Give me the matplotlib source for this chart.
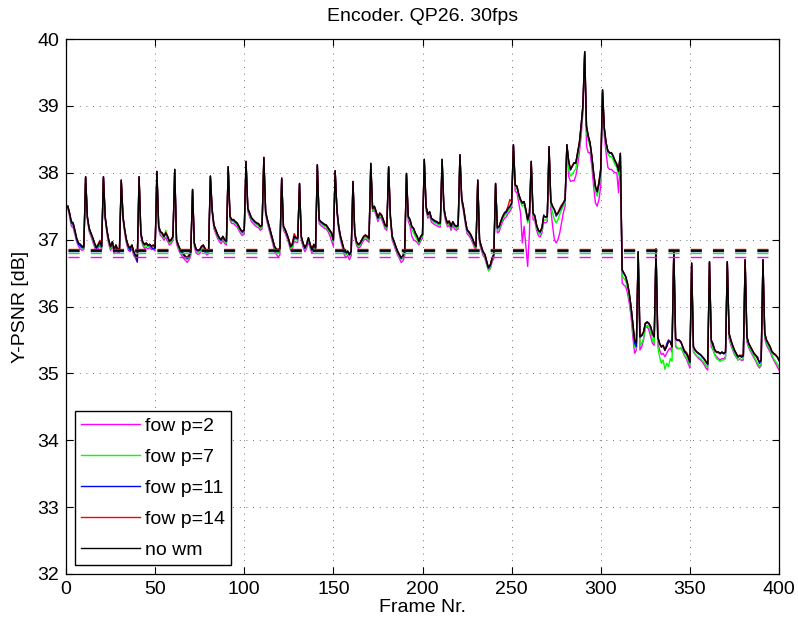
import numpy as np
import matplotlib
matplotlib.use("Agg")
import matplotlib.pyplot as plt

plt.rcParams['font.family'] = ['Liberation Sans', 'DejaVu Sans']

frames = list(range(1, 401))

no_wm = [
37.50, 37.40, 37.27, 37.25, 37.14, 37.02, 36.95, 36.93, 36.90, 36.90,
37.94, 37.34, 37.17, 37.10, 37.03, 36.95, 36.88, 36.92, 36.97, 36.90,
37.94, 37.34, 37.14, 36.99, 36.90, 36.97, 36.85, 36.92, 36.85, 36.86,
37.89, 37.34, 37.14, 36.99, 36.90, 36.88, 36.92, 36.82, 36.77, 36.71,
37.94, 37.10, 36.97, 36.93, 36.95, 36.92, 36.93, 36.90, 36.92, 36.88,
38.02, 37.20, 37.12, 37.10, 37.05, 37.10, 37.05, 36.98, 37.00, 37.05,
38.05, 37.00, 36.92, 36.86, 36.82, 36.78, 36.75, 36.73, 36.76, 36.82,
37.75, 36.95, 36.86, 36.84, 36.85, 36.90, 36.92, 36.87, 36.83, 36.85,
37.95, 37.45, 37.22, 37.15, 37.08, 37.03, 37.00, 37.05, 37.00, 36.98,
38.09, 37.35, 37.30, 37.30, 37.27, 37.25, 37.20, 37.15, 37.12, 37.15,
38.17, 37.47, 37.40, 37.33, 37.30, 37.27, 37.25, 37.24, 37.20, 37.22,
38.23, 37.42, 37.30, 37.20, 37.10, 37.00, 36.90, 36.86, 36.85, 36.87,
37.92, 37.20, 37.15, 37.08, 37.00, 36.90, 36.93, 37.05, 37.03, 37.02,
37.84, 37.05, 36.95, 36.88, 36.93, 37.03, 36.93, 36.85, 36.93, 36.88,
38.12, 37.30, 37.27, 37.25, 37.23, 37.22, 37.18, 37.14, 37.10, 37.00,
38.03, 37.45, 37.20, 37.05, 36.95, 36.85, 36.80, 36.83, 36.78, 36.83,
37.87, 37.10, 36.97, 36.93, 36.95, 37.00, 37.05, 37.07, 37.05, 37.02,
38.14, 37.47, 37.50, 37.42, 37.33, 37.40, 37.37, 37.30, 37.22, 37.20,
38.09, 37.35, 37.05, 36.98, 36.90, 36.83, 36.78, 36.73, 36.76, 36.82,
37.99, 37.35, 37.30, 37.20, 37.17, 37.10, 37.05, 36.98, 37.05, 37.08,
38.20, 37.50, 37.38, 37.42, 37.32, 37.30, 37.28, 37.27, 37.25, 37.25,
38.20, 37.48, 37.33, 37.25, 37.28, 37.20, 37.27, 37.22, 37.20, 37.22,
38.27, 37.62, 37.48, 37.30, 37.15, 37.12, 37.08, 37.02, 36.95, 36.90,
37.89, 37.00, 36.90, 36.82, 36.78, 36.68, 36.58, 36.62, 36.72, 36.78,
37.84, 37.18, 37.20, 37.28, 37.35, 37.40, 37.42, 37.47, 37.50, 37.55,
38.42, 37.82, 37.80, 37.68, 37.60, 37.55, 37.57, 37.45, 37.30, 37.40,
38.17, 37.40, 37.36, 37.22, 37.14, 37.12, 37.18, 37.35, 37.34, 37.35,
38.39, 37.57, 37.50, 37.45, 37.38, 37.40, 37.45, 37.50, 37.55, 37.60,
38.42, 38.18, 38.05, 38.10, 38.15, 38.15, 38.30, 38.45, 38.70, 39.00,
39.81, 38.70, 38.55, 38.45, 38.25, 38.00, 37.80, 37.72, 37.85, 38.05,
39.24, 38.67, 38.45, 38.33, 38.30, 38.30, 38.25, 38.18, 38.13, 38.03,
38.29, 36.55, 36.50, 36.45, 36.35, 36.20, 36.00, 35.75, 35.50, 35.45,
36.82, 35.55, 35.57, 35.62, 35.75, 35.77, 35.75, 35.70, 35.60, 35.55,
36.86, 35.55, 35.45, 35.40, 35.42, 35.35, 35.40, 35.48, 35.47, 35.40,
36.85, 35.52, 35.50, 35.50, 35.47, 35.40, 35.33, 35.30, 35.25, 35.17,
36.65, 35.40, 35.35, 35.32, 35.30, 35.28, 35.25, 35.22, 35.18, 35.14,
36.67, 35.50, 35.42, 35.35, 35.32, 35.32, 35.30, 35.32, 35.30, 35.32,
36.67, 35.60, 35.50, 35.42, 35.35, 35.30, 35.25, 35.27, 35.25, 35.27,
36.70, 35.55, 35.45, 35.40, 35.35, 35.30, 35.27, 35.22, 35.17, 35.20,
36.70, 35.60, 35.50, 35.45, 35.40, 35.33, 35.30, 35.28, 35.25, 35.20,
]

fow_p2 = [
37.48, 37.35, 37.20, 37.18, 37.08, 36.97, 36.90, 36.86, 36.84, 36.85,
37.92, 37.30, 37.12, 37.05, 36.97, 36.89, 36.82, 36.86, 36.92, 36.85,
37.92, 37.30, 37.08, 36.93, 36.84, 36.90, 36.79, 36.86, 36.80, 36.80,
37.87, 37.30, 37.08, 36.93, 36.84, 36.82, 36.86, 36.76, 36.72, 36.66,
37.92, 37.05, 36.92, 36.87, 36.88, 36.86, 36.88, 36.85, 36.86, 36.83,
38.00, 37.15, 37.06, 37.04, 36.99, 37.03, 36.98, 36.92, 36.94, 36.99,
38.03, 36.94, 36.86, 36.80, 36.76, 36.72, 36.69, 36.66, 36.70, 36.76,
37.73, 36.89, 36.80, 36.78, 36.79, 36.84, 36.86, 36.81, 36.77, 36.79,
37.93, 37.40, 37.16, 37.09, 37.02, 36.97, 36.94, 36.99, 36.94, 36.92,
38.07, 37.29, 37.24, 37.24, 37.21, 37.19, 37.14, 37.09, 37.06, 37.09,
38.15, 37.42, 37.34, 37.27, 37.24, 37.21, 37.19, 37.18, 37.14, 37.16,
38.21, 37.37, 37.24, 37.14, 37.04, 36.94, 36.82, 36.78, 36.74, 36.77,
37.90, 37.14, 37.09, 37.02, 36.94, 36.84, 36.86, 36.98, 36.96, 36.96,
37.82, 36.99, 36.89, 36.82, 36.87, 36.97, 36.87, 36.79, 36.87, 36.82,
38.10, 37.24, 37.21, 37.19, 37.17, 37.16, 37.12, 37.06, 36.98, 36.90,
38.01, 37.40, 37.14, 36.99, 36.89, 36.78, 36.73, 36.76, 36.70, 36.76,
37.85, 37.04, 36.91, 36.87, 36.89, 36.94, 36.99, 37.01, 36.99, 36.96,
38.12, 37.42, 37.44, 37.36, 37.27, 37.34, 37.31, 37.24, 37.16, 37.14,
38.07, 37.30, 36.99, 36.92, 36.84, 36.77, 36.72, 36.66, 36.68, 36.76,
37.97, 37.28, 37.20, 37.05, 37.00, 36.98, 36.96, 36.92, 36.98, 37.02,
38.18, 37.44, 37.32, 37.36, 37.26, 37.24, 37.22, 37.21, 37.19, 37.19,
38.18, 37.42, 37.27, 37.19, 37.22, 37.14, 37.21, 37.16, 37.14, 37.16,
38.25, 37.56, 37.42, 37.24, 37.09, 37.06, 37.02, 36.96, 36.89, 36.84,
37.87, 36.94, 36.84, 36.76, 36.72, 36.62, 36.55, 36.56, 36.66, 36.72,
37.82, 37.10, 37.12, 37.20, 37.27, 37.32, 37.34, 37.39, 37.42, 37.47,
38.40, 37.72, 37.70, 37.55, 37.40, 36.95, 37.20, 36.90, 36.60, 37.10,
38.15, 37.30, 37.28, 37.14, 37.06, 37.04, 37.10, 37.26, 37.25, 37.27,
38.37, 37.45, 37.20, 37.00, 36.95, 37.00, 37.10, 37.25, 37.40, 37.50,
38.40, 37.95, 37.87, 37.88, 37.88, 37.95, 38.10, 38.30, 38.55, 38.90,
39.78, 38.40, 38.30, 38.30, 38.10, 37.80, 37.55, 37.50, 37.60, 37.80,
39.20, 38.55, 38.30, 38.08, 38.05, 38.05, 38.02, 38.00, 38.00, 37.70,
38.25, 36.35, 36.32, 36.30, 36.20, 36.05, 35.85, 35.55, 35.30, 35.35,
36.80, 35.35, 35.40, 35.50, 35.68, 35.70, 35.65, 35.55, 35.45, 35.42,
36.84, 35.45, 35.35, 35.28, 35.30, 35.25, 35.30, 35.35, 35.38, 35.32,
36.83, 35.40, 35.37, 35.37, 35.38, 35.33, 35.26, 35.22, 35.15, 35.08,
36.63, 35.32, 35.28, 35.25, 35.22, 35.20, 35.17, 35.13, 35.08, 35.05,
36.65, 35.40, 35.35, 35.28, 35.25, 35.22, 35.20, 35.22, 35.22, 35.25,
36.65, 35.52, 35.42, 35.35, 35.28, 35.24, 35.20, 35.22, 35.19, 35.20,
36.68, 35.47, 35.38, 35.33, 35.28, 35.23, 35.18, 35.12, 35.08, 35.12,
36.68, 35.52, 35.42, 35.37, 35.32, 35.25, 35.20, 35.15, 35.10, 35.05,
]

fow_p7 = [
37.49, 37.37, 37.23, 37.21, 37.10, 36.99, 36.92, 36.89, 36.87, 36.87,
37.93, 37.32, 37.14, 37.07, 37.00, 36.92, 36.85, 36.89, 36.94, 36.87,
37.93, 37.32, 37.11, 36.96, 36.87, 36.93, 36.82, 36.89, 36.82, 36.83,
37.88, 37.32, 37.11, 36.96, 36.87, 36.85, 36.89, 36.79, 36.74, 36.68,
37.93, 37.07, 36.94, 36.90, 36.91, 36.89, 36.90, 36.87, 36.89, 36.85,
38.01, 37.17, 37.09, 37.07, 37.02, 37.14, 37.02, 36.95, 36.97, 37.02,
38.04, 36.97, 36.89, 36.83, 36.79, 36.75, 36.72, 36.70, 36.73, 36.79,
37.74, 36.92, 36.83, 36.81, 36.82, 36.87, 36.89, 36.84, 36.80, 36.82,
37.94, 37.42, 37.19, 37.12, 37.05, 37.00, 36.97, 37.02, 36.97, 36.95,
38.08, 37.32, 37.27, 37.27, 37.24, 37.22, 37.17, 37.12, 37.09, 37.12,
38.16, 37.44, 37.37, 37.30, 37.27, 37.24, 37.22, 37.21, 37.17, 37.19,
38.22, 37.39, 37.27, 37.17, 37.07, 36.97, 36.86, 36.82, 36.80, 36.82,
37.91, 37.17, 37.12, 37.05, 36.97, 36.87, 36.89, 37.01, 37.00, 36.99,
37.83, 37.02, 36.92, 36.85, 36.90, 37.00, 36.90, 36.82, 36.90, 36.85,
38.11, 37.27, 37.24, 37.22, 37.20, 37.19, 37.15, 37.10, 37.05, 36.96,
38.02, 37.42, 37.17, 37.02, 36.92, 36.82, 36.77, 36.80, 36.75, 36.80,
37.86, 37.07, 36.94, 36.90, 36.92, 36.97, 37.02, 37.04, 37.02, 36.99,
38.13, 37.44, 37.47, 37.39, 37.30, 37.37, 37.34, 37.27, 37.19, 37.17,
38.08, 37.32, 37.02, 36.95, 36.87, 36.80, 36.75, 36.70, 36.72, 36.79,
37.98, 37.32, 37.26, 37.15, 37.10, 37.04, 37.00, 36.94, 37.01, 37.05,
38.19, 37.47, 37.35, 37.39, 37.29, 37.27, 37.25, 37.24, 37.22, 37.22,
38.19, 37.45, 37.30, 37.22, 37.25, 37.17, 37.24, 37.19, 37.17, 37.19,
38.26, 37.59, 37.45, 37.27, 37.12, 37.09, 37.05, 36.99, 36.92, 36.87,
37.88, 36.97, 36.87, 36.79, 36.74, 36.64, 36.53, 36.58, 36.69, 36.75,
37.83, 37.14, 37.16, 37.24, 37.31, 37.36, 37.38, 37.43, 37.46, 37.51,
38.41, 37.78, 37.76, 37.64, 37.56, 37.50, 37.52, 37.40, 37.25, 37.35,
38.16, 37.36, 37.32, 37.18, 37.10, 37.08, 37.14, 37.30, 37.29, 37.31,
38.38, 37.52, 37.40, 37.30, 37.25, 37.30, 37.38, 37.45, 37.50, 37.56,
38.41, 38.05, 37.95, 37.98, 38.02, 38.06, 38.22, 38.38, 38.63, 38.95,
39.80, 38.62, 38.48, 38.40, 38.20, 37.95, 37.72, 37.65, 37.78, 37.98,
39.22, 38.62, 38.40, 38.28, 38.24, 38.24, 38.19, 38.12, 38.08, 37.97,
38.27, 36.45, 36.42, 36.38, 36.28, 36.12, 35.92, 35.65, 35.40, 35.38,
36.81, 35.42, 35.45, 35.52, 35.68, 35.72, 35.70, 35.62, 35.50, 35.45,
36.85, 35.40, 35.25, 35.15, 35.20, 35.06, 35.15, 35.10, 35.22, 35.18,
36.84, 35.42, 35.38, 35.37, 35.38, 35.33, 35.27, 35.24, 35.19, 35.12,
36.64, 35.33, 35.29, 35.26, 35.24, 35.22, 35.19, 35.16, 35.12, 35.09,
36.66, 35.45, 35.36, 35.27, 35.22, 35.20, 35.18, 35.20, 35.20, 35.22,
36.66, 35.55, 35.45, 35.37, 35.30, 35.25, 35.20, 35.22, 35.20, 35.22,
36.69, 35.50, 35.40, 35.35, 35.30, 35.25, 35.20, 35.15, 35.10, 35.14,
36.69, 35.55, 35.45, 35.40, 35.35, 35.28, 35.22, 35.18, 35.14, 35.10,
]

fow_p11 = [
37.50, 37.39, 37.25, 37.23, 37.12, 37.00, 36.93, 36.91, 36.88, 36.88,
37.94, 37.33, 37.16, 37.09, 37.02, 36.94, 36.87, 36.91, 36.96, 36.89,
37.94, 37.33, 37.13, 36.98, 36.89, 36.96, 36.84, 36.91, 36.84, 36.85,
37.89, 37.33, 37.13, 36.98, 36.89, 36.84, 36.91, 36.81, 36.75, 36.67,
37.94, 37.09, 36.96, 36.92, 36.94, 36.91, 36.92, 36.88, 36.86, 36.87,
38.02, 37.19, 37.11, 37.09, 37.04, 37.09, 37.04, 36.97, 36.99, 37.04,
38.05, 36.99, 36.91, 36.85, 36.81, 36.77, 36.74, 36.72, 36.75, 36.81,
37.75, 36.94, 36.85, 36.83, 36.84, 36.89, 36.91, 36.86, 36.82, 36.84,
37.95, 37.44, 37.21, 37.14, 37.07, 37.02, 36.99, 37.04, 36.99, 36.97,
38.09, 37.34, 37.29, 37.29, 37.26, 37.24, 37.19, 37.14, 37.11, 37.14,
38.17, 37.46, 37.39, 37.32, 37.29, 37.26, 37.24, 37.23, 37.19, 37.21,
38.23, 37.41, 37.29, 37.19, 37.09, 36.99, 36.89, 36.85, 36.84, 36.86,
37.92, 37.19, 37.14, 37.07, 36.99, 36.89, 36.92, 37.04, 37.02, 37.01,
37.84, 37.04, 36.94, 36.87, 36.92, 37.02, 36.92, 36.84, 36.92, 36.87,
38.12, 37.29, 37.26, 37.24, 37.22, 37.21, 37.17, 37.13, 37.09, 36.99,
38.03, 37.44, 37.19, 37.04, 36.94, 36.84, 36.79, 36.82, 36.77, 36.82,
37.87, 37.09, 36.96, 36.92, 36.94, 36.99, 37.04, 37.06, 37.04, 37.01,
38.14, 37.46, 37.49, 37.41, 37.32, 37.39, 37.36, 37.29, 37.21, 37.19,
38.09, 37.34, 37.04, 36.97, 36.89, 36.82, 36.77, 36.72, 36.75, 36.81,
37.99, 37.34, 37.29, 37.19, 37.16, 37.09, 37.04, 36.97, 37.04, 37.07,
38.20, 37.49, 37.37, 37.41, 37.31, 37.29, 37.27, 37.26, 37.24, 37.24,
38.20, 37.47, 37.32, 37.24, 37.27, 37.19, 37.26, 37.21, 37.19, 37.21,
38.27, 37.61, 37.47, 37.29, 37.14, 37.11, 37.07, 37.01, 36.94, 36.89,
37.89, 36.99, 36.89, 36.81, 36.77, 36.67, 36.57, 36.61, 36.71, 36.77,
37.84, 37.17, 37.19, 37.27, 37.34, 37.39, 37.41, 37.46, 37.49, 37.54,
38.42, 37.81, 37.79, 37.67, 37.59, 37.54, 37.56, 37.44, 37.29, 37.39,
38.17, 37.39, 37.35, 37.21, 37.13, 37.11, 37.17, 37.37, 37.33, 37.34,
38.39, 37.56, 37.49, 37.44, 37.35, 37.39, 37.44, 37.49, 37.54, 37.59,
38.42, 38.17, 38.04, 38.09, 38.14, 38.14, 38.29, 38.44, 38.72, 39.02,
39.81, 38.69, 38.54, 38.44, 38.24, 37.99, 37.79, 37.71, 37.84, 38.04,
39.24, 38.66, 38.44, 38.32, 38.29, 38.29, 38.24, 38.17, 38.12, 38.02,
38.29, 36.54, 36.49, 36.44, 36.34, 36.19, 35.99, 35.74, 35.45, 35.40,
36.82, 35.54, 35.56, 35.61, 35.74, 35.76, 35.74, 35.69, 35.59, 35.54,
36.86, 35.54, 35.44, 35.39, 35.41, 35.34, 35.44, 35.50, 35.48, 35.39,
36.85, 35.51, 35.49, 35.49, 35.46, 35.39, 35.32, 35.29, 35.24, 35.16,
36.65, 35.39, 35.34, 35.31, 35.29, 35.27, 35.24, 35.21, 35.17, 35.13,
36.67, 35.49, 35.45, 35.34, 35.31, 35.31, 35.29, 35.31, 35.29, 35.31,
36.67, 35.59, 35.49, 35.41, 35.34, 35.29, 35.24, 35.26, 35.24, 35.26,
36.70, 35.54, 35.44, 35.39, 35.34, 35.29, 35.26, 35.25, 35.15, 35.19,
36.70, 35.59, 35.49, 35.44, 35.39, 35.32, 35.29, 35.27, 35.24, 35.19,
]

fow_p14 = [
37.50, 37.40, 37.27, 37.25, 37.14, 37.02, 36.95, 36.93, 36.90, 36.90,
37.94, 37.34, 37.17, 37.10, 37.03, 36.95, 36.89, 36.93, 36.99, 36.92,
37.94, 37.34, 37.14, 36.99, 36.90, 36.97, 36.86, 36.92, 36.86, 36.87,
37.89, 37.34, 37.14, 36.99, 36.91, 36.88, 36.92, 36.83, 36.78, 36.72,
37.94, 37.10, 36.97, 36.93, 36.95, 36.92, 36.93, 36.90, 36.92, 36.89,
38.02, 37.20, 37.12, 37.10, 37.05, 37.11, 37.05, 36.98, 37.00, 37.05,
38.05, 37.00, 36.92, 36.86, 36.82, 36.78, 36.75, 36.74, 36.77, 36.82,
37.75, 36.95, 36.86, 36.84, 36.85, 36.90, 36.92, 36.87, 36.83, 36.85,
37.95, 37.45, 37.22, 37.15, 37.08, 37.03, 37.00, 37.05, 37.00, 36.98,
38.09, 37.35, 37.30, 37.30, 37.27, 37.25, 37.20, 37.15, 37.12, 37.15,
38.17, 37.47, 37.40, 37.33, 37.30, 37.27, 37.25, 37.24, 37.20, 37.22,
38.23, 37.42, 37.30, 37.20, 37.10, 37.00, 36.90, 36.86, 36.85, 36.87,
37.92, 37.20, 37.15, 37.08, 37.00, 36.91, 36.95, 37.09, 37.04, 37.02,
37.84, 37.05, 36.95, 36.88, 36.93, 37.03, 36.93, 36.85, 36.93, 36.88,
38.12, 37.30, 37.27, 37.25, 37.23, 37.22, 37.18, 37.14, 37.10, 37.00,
38.03, 37.45, 37.20, 37.05, 36.95, 36.85, 36.80, 36.83, 36.78, 36.83,
37.87, 37.10, 36.97, 36.93, 36.95, 37.00, 37.05, 37.07, 37.05, 37.02,
38.14, 37.47, 37.50, 37.42, 37.33, 37.40, 37.37, 37.30, 37.22, 37.20,
38.09, 37.35, 37.05, 36.98, 36.90, 36.83, 36.78, 36.73, 36.76, 36.82,
37.99, 37.35, 37.30, 37.20, 37.17, 37.10, 37.05, 36.98, 37.05, 37.08,
38.20, 37.50, 37.38, 37.42, 37.32, 37.30, 37.28, 37.27, 37.25, 37.25,
38.20, 37.48, 37.33, 37.25, 37.28, 37.20, 37.27, 37.22, 37.20, 37.22,
38.27, 37.62, 37.48, 37.30, 37.15, 37.12, 37.08, 37.02, 36.95, 36.90,
37.89, 37.00, 36.90, 36.82, 36.78, 36.68, 36.58, 36.62, 36.72, 36.78,
37.84, 37.18, 37.20, 37.28, 37.35, 37.40, 37.43, 37.50, 37.60, 37.56,
38.42, 37.82, 37.80, 37.68, 37.60, 37.55, 37.57, 37.45, 37.30, 37.40,
38.17, 37.40, 37.36, 37.22, 37.14, 37.12, 37.18, 37.35, 37.34, 37.35,
38.39, 37.57, 37.50, 37.45, 37.38, 37.40, 37.47, 37.52, 37.55, 37.60,
38.42, 38.18, 38.05, 38.10, 38.15, 38.15, 38.30, 38.45, 38.70, 39.00,
39.81, 38.70, 38.55, 38.45, 38.25, 38.00, 37.80, 37.72, 37.87, 38.08,
39.24, 38.67, 38.45, 38.33, 38.30, 38.30, 38.25, 38.18, 38.13, 38.03,
38.29, 36.55, 36.50, 36.45, 36.35, 36.20, 36.00, 35.75, 35.50, 35.45,
36.82, 35.55, 35.57, 35.62, 35.75, 35.77, 35.75, 35.70, 35.60, 35.55,
36.86, 35.55, 35.45, 35.40, 35.42, 35.35, 35.40, 35.48, 35.47, 35.40,
36.85, 35.52, 35.50, 35.50, 35.47, 35.40, 35.34, 35.32, 35.27, 35.18,
36.65, 35.40, 35.35, 35.32, 35.30, 35.28, 35.25, 35.22, 35.18, 35.14,
36.67, 35.50, 35.42, 35.35, 35.32, 35.32, 35.30, 35.32, 35.30, 35.32,
36.67, 35.60, 35.50, 35.42, 35.35, 35.30, 35.25, 35.27, 35.27, 35.29,
36.70, 35.55, 35.45, 35.40, 35.35, 35.30, 35.27, 35.22, 35.17, 35.20,
36.70, 35.60, 35.50, 35.45, 35.40, 35.33, 35.30, 35.28, 35.25, 35.20,
]

labels = ["fow p=2", "fow p=7", "fow p=11", "fow p=14", "no wm"]
colors = ["#ff00ff", "#00ff00", "#0000ff", "#ff0000", "#000000"]
mean_levels = [36.745, 36.80, 36.83, 36.855, 36.85]

x_ticks = [0, 50, 100, 150, 200, 250, 300, 350, 400]
y_ticks = [32, 33, 34, 35, 36, 37, 38, 39, 40]

series = [fow_p2, fow_p7, fow_p11, fow_p14, no_wm]

fig = plt.figure(figsize=(7.98, 6.25), dpi=100)
ax = fig.add_axes([66/798, (625-574)/625, 713/798, 535/625])

handles = []
for vals, col, lab in zip(series, colors, labels):
    h, = ax.plot(frames, vals, color=col, lw=1.0, label=lab)
    handles.append(h)

for lvl, col in zip(mean_levels, colors):
    ax.plot([frames[0], frames[-1]], [lvl, lvl], color=col, lw=1.0,
            dashes=(8, 8))

ax.set_xlim(0, 400)
ax.set_ylim(32, 40)
ax.set_xticks(x_ticks)
ax.set_yticks(y_ticks)
ax.tick_params(direction='in', top=True, right=True, length=5, width=0.8,
               labelsize=14, pad=5)
ax.grid(True, color='0.25', linewidth=0.6, linestyle=(0, (1, 7)))
for sp in ax.spines.values():
    sp.set_linewidth(0.9)

ax.set_title("Encoder. QP26. 30fps", fontsize=14, pad=13)
ax.set_xlabel("Frame Nr.", fontsize=14, labelpad=1)
ax.set_ylabel("Y-PSNR [dB]", fontsize=14, labelpad=6)

leg = ax.legend(handles=handles, loc='lower left',
                bbox_to_anchor=(0.0126, 0.0168), borderaxespad=0,
                fontsize=14, fancybox=False, edgecolor='black',
                framealpha=1, handlelength=3.0, handletextpad=0.28,
                labelspacing=0.69, borderpad=0.32)
leg.get_frame().set_linewidth(1.0)

fig.savefig("out.png", dpi=100)
